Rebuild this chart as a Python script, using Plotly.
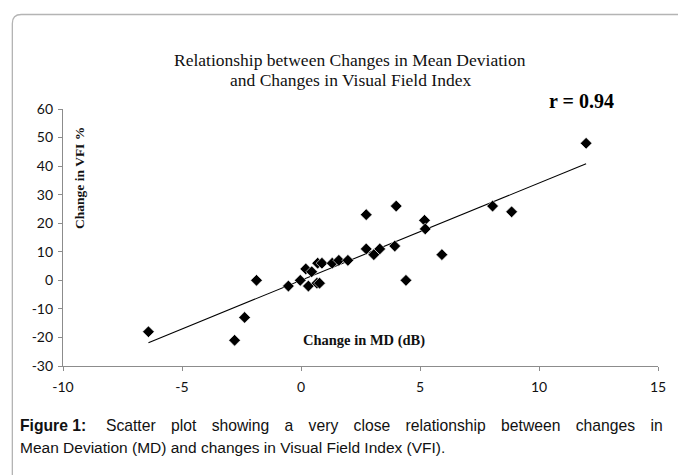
import numpy as np
import plotly.graph_objects as go

# Data
md_change = [-6.41, -2.79, -2.37, -1.87, -0.53, -0.03, 0.20, 0.31, 0.45, 0.70,
             0.88, 0.67, 0.78, 1.31, 1.59, 1.97, 2.74, 2.74, 3.06, 3.31,
             3.94, 4.00, 4.41, 5.19, 5.22, 5.92, 8.05, 8.85, 11.98]
vfi_change = [-18, -21, -13, 0, -2, 0, 4, -2, 3, 6,
              6, -1, -1, 6, 7, 7, 23, 11, 9, 11,
              12, 26, 0, 21, 18, 9, 26, 24, 48]

x_ticks = [-10, -5, 0, 5, 10, 15]
y_ticks = [-30, -20, -10, 0, 10, 20, 30, 40, 50, 60]

title_lines = ["Relationship between Changes in Mean Deviation",
               "and Changes in Visual Field Index"]
r_label = "r = 0.94"
x_title = "Change in MD (dB)"
y_title = "Change in VFI %"
caption_bold = "Figure 1:"
caption_line1_words = ["Scatter", "plot", "showing", "a", "very", "close",
                       "relationship", "between", "changes", "in"]
caption_line2 = "Mean Deviation (MD) and changes in Visual Field Index (VFI)."

# Layout in pixels
W, H = 678, 475
L, R, T, B = 63, 16, 109, 109
PW, PH = W - L - R, H - T - B


def px(xp):
    return (xp - L) / PW


def py(yp):
    return (H - B - yp) / PH


# Linear fit
slope, intercept = np.polyfit(md_change, vfi_change, 1)
fx = np.array([min(md_change), max(md_change)])
fy = slope * fx + intercept

fig = go.Figure()
fig.add_trace(go.Scatter(
    x=fx, y=fy, mode="lines",
    line=dict(color="black", width=1.1),
    hoverinfo="skip", showlegend=False))
fig.add_trace(go.Scatter(
    x=md_change, y=vfi_change, mode="markers",
    marker=dict(symbol="diamond", size=9, color="black",
                line=dict(color="white", width=0.6)),
    showlegend=False))

axis_common = dict(
    showgrid=False, zeroline=False, showline=True,
    linecolor="#8c8c8c", linewidth=1.2,
    ticks="outside", ticklen=4, tickcolor="#8c8c8c", tickwidth=1.2,
    tickfont=dict(family="Lato", size=14, color="#111111"),
    tickmode="array",
)
fig.update_xaxes(range=[-10, 15], tickvals=x_ticks, ticktext=[str(v) for v in x_ticks],
                 ticklabelstandoff=4, **axis_common)
fig.update_yaxes(range=[-30, 60], tickvals=y_ticks, ticktext=[str(v) for v in y_ticks],
                 ticklabelstandoff=2, **axis_common)

gap = "\u2002\u2009"  # widened word gaps to mimic justified first line
caption_line1 = ("<b>" + caption_bold + "</b>\u00a0 " + gap
                 + (" " + gap).join(caption_line1_words))

annotations = [
    dict(text=title_lines[0], x=px(352), y=py(60), xref="paper", yref="paper",
         showarrow=False, xanchor="center", yanchor="middle",
         font=dict(family="Liberation Serif", size=17.5, color="#111111")),
    dict(text=title_lines[1], x=px(352), y=py(80), xref="paper", yref="paper",
         showarrow=False, xanchor="center", yanchor="middle",
         font=dict(family="Liberation Serif", size=17.5, color="#111111")),
    dict(text="<b>" + r_label + "</b>", x=px(585), y=py(101), xref="paper", yref="paper",
         showarrow=False, xanchor="center", yanchor="middle",
         font=dict(family="Liberation Serif", size=20, color="black")),
    dict(text="<b>" + y_title + "</b>", x=px(79), y=py(178), xref="paper", yref="paper",
         showarrow=False, xanchor="center", yanchor="middle", textangle=-90,
         font=dict(family="Liberation Serif", size=13.5, color="#111111")),
    dict(text="<b>" + x_title + "</b>", x=px(366), y=py(340), xref="paper", yref="paper",
         showarrow=False, xanchor="center", yanchor="middle",
         font=dict(family="Liberation Serif", size=14.5, color="#111111")),
    dict(text=caption_line1, x=px(18), y=py(425), xref="paper", yref="paper",
         showarrow=False, xanchor="left", yanchor="middle",
         font=dict(family="Liberation Sans", size=15.7, color="#111111")),
    dict(text=caption_line2, x=px(18), y=py(447), xref="paper", yref="paper",
         showarrow=False, xanchor="left", yanchor="middle",
         font=dict(family="Liberation Sans", size=15.5, color="#111111")),
]

# Rounded outer border (left, top; extends past right and bottom edges)
bx0, by0, bx1, by1, rad = 12, 14.5, 690, 490, 9
rx, ry = rad / PW, rad / PH
path = (f"M {px(bx0)},{py(by1)} L {px(bx0)},{py(by0) - ry} "
        f"Q {px(bx0)},{py(by0)} {px(bx0) + rx},{py(by0)} "
        f"L {px(bx1)},{py(by0)}")
shapes = [dict(type="path", path=path, xref="paper", yref="paper",
               line=dict(color="#b4b4b4", width=1.3), layer="below")]

fig.update_layout(
    width=W, height=H,
    margin=dict(l=L, r=R, t=T, b=B),
    paper_bgcolor="white", plot_bgcolor="white",
    annotations=annotations, shapes=shapes,
    showlegend=False,
)

fig.write_html("out.html", config={"displayModeBar": False},
               post_script="document.body.style.margin='0';")
